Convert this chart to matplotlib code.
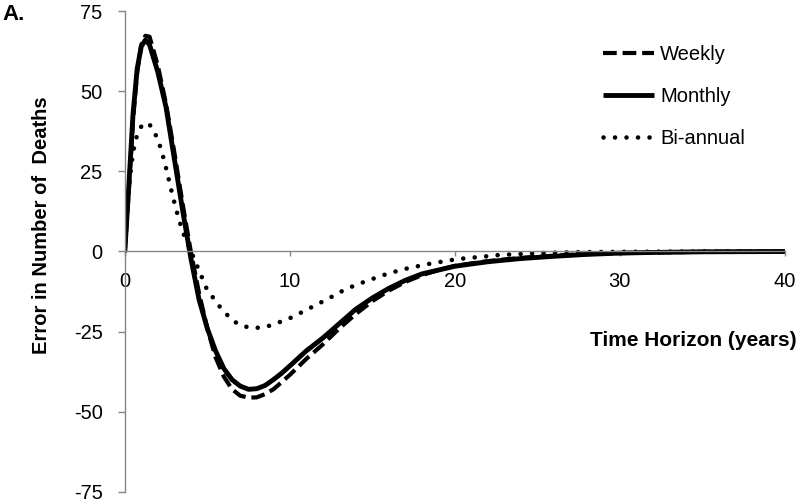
import matplotlib
matplotlib.use("Agg")
import matplotlib.pyplot as plt

plt.rcParams['font.family'] = ['Liberation Sans', 'DejaVu Sans']
plt.rcParams['axes.unicode_minus'] = False

# Weekly (dashed)
t_weekly = [0, 0.25, 0.5, 0.75, 1.0, 1.25, 1.5, 2.0, 2.5, 3.0, 3.5, 4.0, 4.5, 5.0, 5.5,
            6.0, 6.5, 7.0, 7.5, 8.0, 8.5, 9.0, 9.5, 10, 11, 12, 13, 14, 15, 16, 17,
            18, 19, 20, 22, 24, 26, 28, 30, 32, 35, 40]
y_weekly = [0, 20, 41, 56, 64.5, 67.3, 67, 58, 46, 31, 15, 0, -13, -24, -33,
            -39, -43, -45, -45.6, -45.5, -44.5, -43, -40.8, -38.5, -33.5, -29, -24, -19.5, -15.5, -12.2, -9.5,
            -7.4, -5.8, -4.5, -3, -2, -1.3, -0.8, -0.5, -0.3, -0.1, 0]

# Monthly (solid)
t_monthly = [0, 0.25, 0.5, 0.75, 1.0, 1.25, 1.5, 2.0, 2.5, 3.0, 3.5, 4.0, 4.5, 5.0, 5.5,
             6.0, 6.5, 7.0, 7.5, 8.0, 8.5, 9.0, 9.5, 10, 11, 12, 13, 14, 15, 16, 17,
             18, 19, 20, 22, 24, 26, 28, 30, 32, 35, 40]
y_monthly = [0, 21, 43, 57, 64, 66, 64.5, 56, 45, 29, 13, -2, -15, -24, -31,
             -36.5, -40, -42, -43, -42.8, -41.8, -40, -38, -35.7, -31, -27, -22.5, -18, -14.5, -11.5, -9,
             -7, -5.8, -4.6, -3.2, -2.2, -1.5, -0.9, -0.5, -0.3, -0.1, 0]

# Bi-annual (dotted)
t_biannual = [0, 0.1, 0.3, 0.5, 0.75, 1.0, 1.4, 1.75, 2.2, 2.5, 2.8, 3.1, 3.5, 4.0, 4.45,
              4.95, 5.65, 6.47, 7.0, 7.68, 8.3, 8.9, 10.1, 11.2, 12.3, 13.4, 14.6, 16.0, 17.1,
              18.5, 20.1, 22.7, 25, 27.5, 30, 35, 40]
y_biannual = [0, 12, 22.6, 31, 36.5, 39, 40.2, 38, 32, 26, 19.5, 13.3, 6.2, 0.2, -5.3,
              -11.5, -16.6, -21.3, -23, -23.9, -23.7, -23, -20.6, -17.7, -14.8, -11.7, -9.3, -6.8, -5.3,
              -3.8, -2.4, -1.1, -0.5, -0.2, -0.1, 0, 0]

x_ticks = [0, 10, 20, 30, 40]
y_ticks = [-75, -50, -25, 0, 25, 50, 75]

fig = plt.figure(figsize=(8, 5.04), dpi=100)
ax = fig.add_axes([0.156, 0.024, 0.825, 0.954])

ax.plot(t_weekly, y_weekly, color='black', lw=3.0, linestyle=(0, (3.3, 1.4)),
        label='Weekly')
ax.plot(t_monthly, y_monthly, color='black', lw=3.5, linestyle='-',
        solid_capstyle='butt', label='Monthly')
ax.plot(t_biannual, y_biannual, color='black', lw=3.3, linestyle=(0, (0.01, 2.5)),
        dash_capstyle='round', label='Bi-annual')

ax.set_xlim(0, 40)
ax.set_ylim(-75, 75)
ax.set_xticks(x_ticks)
ax.set_yticks(y_ticks)

axis_grey = '#868686'
for side in ['top', 'right']:
    ax.spines[side].set_visible(False)
ax.spines['bottom'].set_position(('data', 0))
ax.spines['left'].set_color(axis_grey)
ax.spines['bottom'].set_color(axis_grey)
ax.spines['left'].set_linewidth(1.0)
ax.spines['bottom'].set_linewidth(1.0)

ax.tick_params(axis='y', direction='out', length=5, width=1.0, color=axis_grey,
               pad=11, labelsize=14.5)
ax.tick_params(axis='x', direction='out', length=3.6, width=1.0, color=axis_grey,
               pad=11, labelsize=14.5)

leg = ax.legend(loc='upper left', bbox_to_anchor=(603 / 800, 1 - 45 / 504),
                bbox_transform=fig.transFigure, frameon=False, fontsize=14.5,
                handlelength=2.55, handletextpad=0.3, labelspacing=1.15,
                borderpad=0, borderaxespad=0)

fig.text(42 / 800, 1 - 225 / 504, 'Error in Number of  Deaths', rotation=90,
         ha='center', va='center', fontsize=14.5, fontweight='bold')
fig.text(797 / 800, 1 - 341 / 504, 'Time Horizon (years)', ha='right', va='center',
         fontsize=15, fontweight='bold')
fig.text(2 / 800, 1 - 14 / 504, 'A.', ha='left', va='center', fontsize=16,
         fontweight='bold')

fig.savefig('out.png', dpi=100)
